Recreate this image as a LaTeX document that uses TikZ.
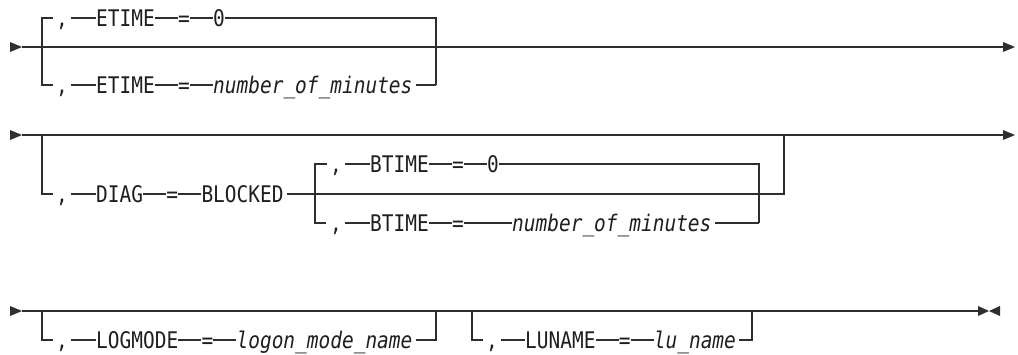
\documentclass[tikz,border=0pt]{standalone}
\usepackage{fontspec}
\newfontfamily\dmono[FakeStretch=0.85]{DejaVu Sans Mono}
\definecolor{ink}{HTML}{1E1E1E}
\definecolor{rulec}{HTML}{2E2E2E}
\tikzset{
  tok/.style={anchor=west, inner sep=0pt, text height=20pt, text depth=3pt,
    font=\dmono\fontsize{22.9}{26}\selectfont, text=ink},
  itok/.style={tok, font=\dmono\itshape\fontsize{22.9}{26}\selectfont},
  cma/.style={tok, inner xsep=3pt},
  ln/.style={draw=rulec, line width=1.5pt},
  tipfill/.style={fill=rulec},
}
\begin{document}
\begin{tikzpicture}[x=1pt,y=-1pt]
\useasboundingbox (0,0) rectangle (1018,354);

% ---------------- Row 1 ----------------
\coordinate (s1) at (22,47);
\coordinate (e1) at (1003,47);
\coordinate (b1tl) at (42,18);
\coordinate (b1bl) at (42,85);
\coordinate (b1tr) at (436,18);
\coordinate (b1br) at (436,85);
\fill[tipfill] (s1) ++(-12,-5) -- (s1) -- ++(-12,5) -- cycle;
\draw[ln] (s1) -- (e1);
\fill[tipfill] (e1) ++(0,-5) -- ++(12,5) -- ++(-12,5) -- cycle;

\node[cma] (r1ca) at (53,18) {,};
\node[tok] (r1ka) at (96,18) {ETIME};
\node[tok] (r1qa) at (177.9,18) {=};
\node[tok] (r1va) at (213,18) {0};
\draw[ln] (r1ca.west) -- (b1tl) -- (b1bl) -- ++(11,0);
\draw[ln] (r1ca.east) -- (r1ka.west);
\draw[ln] (r1ka.east) -- (r1qa.west);
\draw[ln] (r1qa.east) -- (r1va.west);
\draw[ln] (r1va.east) -- (b1tr) -- (b1br);

\node[cma] (r1cb) at (53,85) {,};
\node[tok] (r1kb) at (96,85) {ETIME};
\node[tok] (r1qb) at (177.9,85) {=};
\node[itok] (r1vb) at (213,85) {number\_of\_minutes};
\draw[ln] (r1cb.east) -- (r1kb.west);
\draw[ln] (r1kb.east) -- (r1qb.west);
\draw[ln] (r1qb.east) -- (r1vb.west);
\draw[ln] ([xshift=3pt]r1vb.east) -- (b1br);

% ---------------- Row 2 ----------------
\coordinate (s2) at (22,135);
\coordinate (e2) at (1003,135);
\coordinate (b2tl) at (42,135);
\coordinate (b2bl) at (42,194);
\coordinate (b2tr) at (784,135);
\coordinate (b2br) at (784,194);
\fill[tipfill] (s2) ++(-12,-5) -- (s2) -- ++(-12,5) -- cycle;
\draw[ln] (s2) -- (e2);
\fill[tipfill] (e2) ++(0,-5) -- ++(12,5) -- ++(-12,5) -- cycle;

\node[cma] (r2c) at (53,194) {,};
\node[tok] (r2k) at (96,194) {DIAG};
\node[tok] (r2q) at (166.2,194) {=};
\node[tok] (r2v) at (201.3,194) {BLOCKED};
\draw[ln] (b2tl) -- (b2bl) -- (r2c.west);
\draw[ln] (r2c.east) -- (r2k.west);
\draw[ln] (r2k.east) -- (r2q.west);
\draw[ln] (r2q.east) -- (r2v.west);
\draw[ln] ([xshift=3pt]r2v.east) -- (b2br) -- (b2tr);

\coordinate (i2tl) at (315,164);
\coordinate (i2bl) at (315,223);
\coordinate (i2tr) at (759,164);
\coordinate (i2br) at (759,223);

\node[cma] (r2ca) at (327,164) {,};
\node[tok] (r2ka) at (370,164) {BTIME};
\node[tok] (r2qa) at (451.9,164) {=};
\node[tok] (r2va) at (487,164) {0};
\draw[ln] (r2ca.west) -- (i2tl) -- (i2bl) -- ++(11,0);
\draw[ln] (r2ca.east) -- (r2ka.west);
\draw[ln] (r2ka.east) -- (r2qa.west);
\draw[ln] (r2qa.east) -- (r2va.west);
\draw[ln] (r2va.east) -- (i2tr) -- (i2br);

\node[cma] (r2cb) at (327,223) {,};
\node[tok] (r2kb) at (370,223) {BTIME};
\node[tok] (r2qb) at (451.9,223) {=};
\node[itok] (r2vb) at (512,223) {number\_of\_minutes};
\draw[ln] (r2cb.east) -- (r2kb.west);
\draw[ln] (r2kb.east) -- (r2qb.west);
\draw[ln] (r2qb.east) -- (r2vb.west);
\draw[ln] ([xshift=3pt]r2vb.east) -- (i2br);

% ---------------- Row 3 ----------------
\coordinate (s3) at (22,311);
\coordinate (e3) at (978,311);
\coordinate (b3tl) at (42,311);
\coordinate (b3bl) at (42,340);
\coordinate (b3tr) at (436,311);
\coordinate (b3br) at (436,340);
\coordinate (b4tl) at (472,311);
\coordinate (b4bl) at (472,340);
\coordinate (b4tr) at (752,311);
\coordinate (b4br) at (752,340);
\coordinate (m3a) at (758,310.6);
\coordinate (m3b) at (780,310.6);
\fill[tipfill] (s3) ++(-12,-5) -- (s3) -- ++(-12,5) -- cycle;
\draw[ln] (s3) -- (e3);
\fill[tipfill] (e3) ++(0,-5) -- ++(11,5) -- ++(-11,5) -- cycle;
\fill[tipfill] (e3) ++(22,-5) -- ++(-11,5) -- ++(11,5) -- cycle;
\draw[draw=rulec, line width=2pt] (m3a) -- (m3b);

\node[cma] (r3c) at (53,340) {,};
\node[tok] (r3k) at (96,340) {LOGMODE};
\node[tok] (r3q) at (201.3,340) {=};
\node[itok] (r3v) at (236.4,340) {logon\_mode\_name};
\draw[ln] (b3tl) -- (b3bl) -- (r3c.west);
\draw[ln] (r3c.east) -- (r3k.west);
\draw[ln] (r3k.east) -- (r3q.west);
\draw[ln] (r3q.east) -- (r3v.west);
\draw[ln] ([xshift=3pt]r3v.east) -- (b3br) -- (b3tr);

\node[cma] (r4c) at (483,340) {,};
\node[tok] (r4k) at (525,340) {LUNAME};
\node[tok] (r4q) at (618.6,340) {=};
\node[itok] (r4v) at (653.7,340) {lu\_name};
\draw[ln] (b4tl) -- (b4bl) -- (r4c.west);
\draw[ln] (r4c.east) -- (r4k.west);
\draw[ln] (r4k.east) -- (r4q.west);
\draw[ln] (r4q.east) -- (r4v.west);
\draw[ln] ([xshift=3pt]r4v.east) -- (b4br) -- (b4tr);
\end{tikzpicture}
\end{document}
